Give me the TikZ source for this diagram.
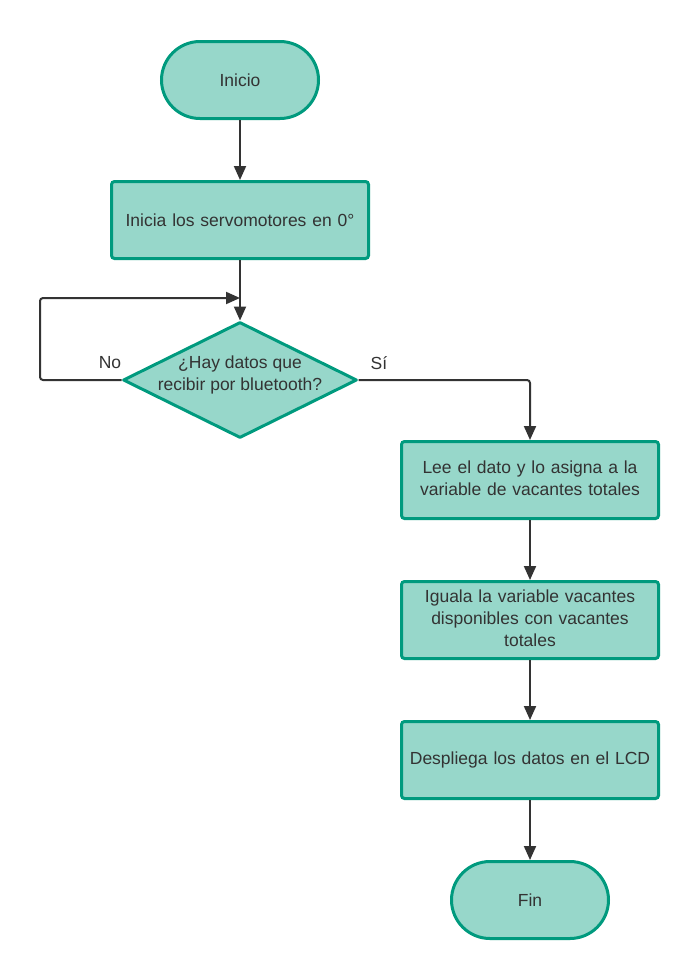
\documentclass[tikz,border=0pt]{standalone}
\usepackage{fontspec}
\setmainfont{Liberation Sans}
\usetikzlibrary{shapes.geometric,shapes.misc,arrows.meta}
\definecolor{fillc}{HTML}{97D7CA}
\definecolor{edgec}{HTML}{009A7E}
\definecolor{linec}{HTML}{333333}
\begin{document}
\begin{tikzpicture}[x=1pt,y=-1pt,
  every node/.style={font=\fontsize{17.5}{22}\selectfont, text=linec},
  base/.style={draw=edgec, fill=fillc, line width=3pt, align=center},
  term/.style={base, rounded rectangle, minimum width=157pt, minimum height=77pt, inner sep=0pt},
  procbox/.style={base, rectangle, rounded corners=3pt, minimum width=257pt, minimum height=77pt, text width=250pt, inner sep=0pt},
  decis/.style={base, diamond, aspect=2, minimum width=234pt, minimum height=116pt, inner sep=0pt, line join=round},
  conn/.style={draw=linec, line width=2pt, -{Triangle[length=14pt,width=12pt]}, rounded corners=3pt},
  lbl/.style={font=\fontsize{17.5}{22}\selectfont}
]
\useasboundingbox (0,0) rectangle (700,980);
\fill[white] (0,0) rectangle (700,980);
\node[term] (inicio) at (240,80) {Inicio};
\node[procbox] (servo) at (240,220) {Inicia los servomotores en 0°};
\node[decis, label={[align=center, yshift=5.5pt, text=linec]center:¿Hay datos que\\ recibir por bluetooth?}] (dec) at (240,380) {};
\node[procbox] (lee) at (530,480) {\raisebox{3pt}{\begin{tabular}{@{}c@{}}Lee el dato y lo asigna a la\\ variable de vacantes totales\end{tabular}}};
\node[procbox] (iguala) at (530,620) {\raisebox{3pt}{\begin{tabular}{@{}c@{}}Iguala la variable vacantes\\ disponibles con vacantes\\ totales\end{tabular}}};
\node[procbox] (desp) at (530,760) {Despliega los datos en el LCD};
\node[term] (fin) at (530,900) {Fin};
\coordinate (loopL) at (40,298);
\coordinate (loopR) at (240,298);
\draw[conn] (inicio) -- (servo);
\draw[conn] (servo) -- (dec);
\draw[conn] (dec.west) -| (loopL) -- (loopR);
\draw[conn] (dec.east) -| (lee.north);
\draw[conn] (lee) -- (iguala);
\draw[conn] (iguala) -- (desp);
\draw[conn] (desp) -- (fin);
\node[lbl] (no) at (110,363) {No};
\node[lbl] (si) at (379,363) {Sí};
\end{tikzpicture}
\end{document}
